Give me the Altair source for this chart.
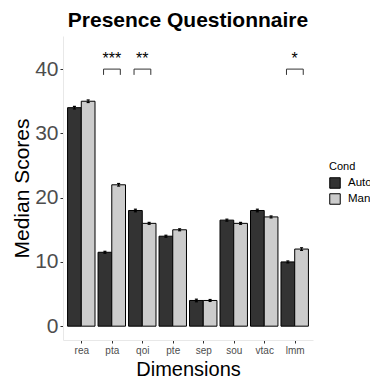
import altair as alt
import pandas as pd

dims = ["rea", "pta", "qoi", "pte", "sep", "sou", "vtac", "lmm"]
conds = ["Auto", "Manual"]
auto_vals = [34, 11.5, 18, 14, 4, 16.5, 18, 10]
manual_vals = [35, 22, 16, 15, 4, 16, 17, 12]
auto_err = [0.2, 0.15, 0.2, 0.15, 0.2, 0.15, 0.2, 0.15]
manual_err = [0.2, 0.2, 0.15, 0.15, 0.15, 0.15, 0.15, 0.2]
sig_dims = ["pta", "qoi", "lmm"]
sig_labels = ["***", "**", "*"]
y_ticks = [0, 10, 20, 30, 40]

FONT = "Liberation Sans"
DW = 0.45  # dodge width per bar

rows = []
for i, d in enumerate(dims):
    pos = i + 1
    for c, vals, errs in ((conds[0], auto_vals, auto_err), (conds[1], manual_vals, manual_err)):
        x0 = pos - DW if c == conds[0] else pos
        rows.append({
            "dim": d, "Cond": c, "value": vals[i],
            "x0": x0, "x1": x0 + DW, "xc": x0 + DW / 2,
            "xl": x0 + DW / 2 - 0.05, "xr": x0 + DW / 2 + 0.05,
            "lo": vals[i] - errs[i], "hi": vals[i] + errs[i],
        })
df = pd.DataFrame(rows)

sig_rows = []
for d, lab in zip(sig_dims, sig_labels):
    pos = dims.index(d) + 1
    sig_rows.append({"dim": d, "label": lab, "pos": pos,
                     "xa": pos - 0.27, "xb": pos + 0.28,
                     "top": 40, "bot": 39.1, "ty": 40.8})
sig = pd.DataFrame(sig_rows)

label_expr = "[" + ",".join("'%s'" % d for d in dims) + "][datum.value - 1]"

xscale = alt.Scale(domain=[0.4, len(dims) + 0.6], nice=False, zero=False)
yscale = alt.Scale(domain=[-2.15, 45.15], nice=False, zero=False)

x_axis = alt.Axis(values=list(range(1, len(dims) + 1)), labelExpr=label_expr,
                  labelOverlap=False, labelFlush=False,
                  title="Dimensions", titleFontSize=20, titleFont=FONT,
                  titleFontWeight="normal", titleColor="black",
                  titleY=35, titleBaseline="alphabetic",
                  labelFontSize=10, labelFont=FONT, labelColor="#4D4D4D",
                  labelPadding=2, tickSize=3, tickColor="#333333",
                  domainColor="#E8E8E8", grid=False, labelAngle=0)
y_axis = alt.Axis(values=y_ticks, title="Median Scores", titleFontSize=21,
                  titleFont=FONT, titleFontWeight="normal", titleColor="black",
                  titleX=-35, titleY=152, titleAlign="center", titleAngle=-90,
                  titleBaseline="alphabetic",
                  labelFontSize=21, labelFont=FONT, labelColor="#4D4D4D",
                  labelPadding=2, tickSize=3, tickColor="#333333",
                  domainColor="#E8E8E8", grid=False)

AX = dict(axis=x_axis, scale=xscale)
AY = dict(axis=y_axis, scale=yscale)

bars = alt.Chart(df).mark_bar(stroke="black", strokeWidth=1).encode(
    x=alt.X("x0:Q", **AX),
    x2="x1:Q",
    y=alt.Y("value:Q", **AY),
    y2=alt.datum(0),
    fill=alt.Fill("Cond:N", scale=alt.Scale(domain=conds, range=["#333333", "#CCCCCC"]),
                  legend=alt.Legend(title="Cond", orient="none", legendX=266, legendY=125,
                                    symbolType="square", symbolSize=110,
                                    symbolStrokeColor="black", symbolStrokeWidth=1,
                                    titleFontSize=11, titleFont=FONT, titleFontWeight="normal",
                                    titleColor="black", titlePadding=5,
                                    labelFontSize=11.5, labelFont=FONT, labelColor="black",
                                    labelOffset=7, rowPadding=0, padding=0)),
)

err_rule = alt.Chart(df).mark_rule(color="black", strokeWidth=1).encode(
    x=alt.X("xc:Q", **AX), y=alt.Y("lo:Q", **AY), y2="hi:Q")
err_cap_hi = alt.Chart(df).mark_rule(color="black", strokeWidth=1.2).encode(
    x=alt.X("xl:Q", **AX), x2="xr:Q", y=alt.Y("hi:Q", **AY))
err_cap_lo = alt.Chart(df).mark_rule(color="black", strokeWidth=1.2).encode(
    x=alt.X("xl:Q", **AX), x2="xr:Q", y=alt.Y("lo:Q", **AY))

br_top = alt.Chart(sig).mark_rule(color="#333333", strokeWidth=1).encode(
    x=alt.X("xa:Q", **AX), x2="xb:Q", y=alt.Y("top:Q", **AY))
br_left = alt.Chart(sig).mark_rule(color="#333333", strokeWidth=1).encode(
    x=alt.X("xa:Q", **AX), y=alt.Y("bot:Q", **AY), y2="top:Q")
br_right = alt.Chart(sig).mark_rule(color="#333333", strokeWidth=1).encode(
    x=alt.X("xb:Q", **AX), y=alt.Y("bot:Q", **AY), y2="top:Q")
stars = alt.Chart(sig).mark_text(fontSize=16, font=FONT, color="black",
                                 baseline="alphabetic", align="center").encode(
    x=alt.X("pos:Q", **AX), y=alt.Y("ty:Q", **AY), text="label:N")

chart = alt.layer(bars, err_rule, err_cap_hi, err_cap_lo, br_top, br_left, br_right, stars).properties(
    width=250, height=304,
    autosize=alt.AutoSizeParams(type="none"),
    padding={"left": 63, "top": 36, "right": 57, "bottom": 38},
    background="white",
    title=alt.TitleParams("Presence Questionnaire", fontSize=21, font=FONT,
                          fontWeight="bold", color="black", anchor="middle",
                          frame="group", offset=10, baseline="alphabetic", dy=22),
).configure_view(stroke=None).configure_axisX(labelOverlap=False)

chart.save("out.html", embed_options={"renderer": "svg", "actions": False})
